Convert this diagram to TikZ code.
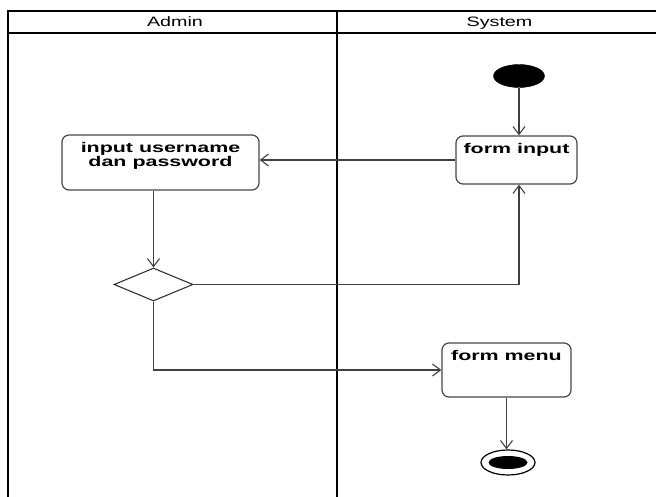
\documentclass[tikz,border=0pt]{standalone}
\usepackage{fontspec}
\setmainfont{Liberation Sans}
\usepackage{graphicx}
\usetikzlibrary{shapes.geometric,arrows.meta}
\newcommand\hdtxt[1]{\scalebox{1.45}[1]{\fontsize{13.6}{13.6}\selectfont #1}}
\newcommand\acttxt[1]{\scalebox{1.53}[1]{\fontsize{14}{12.5}\selectfont\bfseries\begin{tabular}{@{}c@{}}#1\end{tabular}}}
\newcommand\actbox[3]{\parbox[c][#2pt][t]{#1pt}{\centering\vspace*{7pt}\acttxt{#3}}}
\tikzset{
  lane/.style={line width=1.8pt, black},
  act/.style={draw=black!72, line width=1.2pt, rounded corners=7pt, fill=white, inner sep=0pt},
  flow/.style={draw=black!75, line width=1.1pt, -{Straight Barb[length=8pt,width=12pt,line width=1.1pt]}},
  startnode/.style={ellipse, fill=black, draw=black, minimum width=51pt, minimum height=23pt, inner sep=0pt},
  endouter/.style={ellipse, draw=black, line width=1.2pt, fill=white, minimum width=54pt, minimum height=25pt, inner sep=0pt},
  endinner/.style={ellipse, fill=black, minimum width=39pt, minimum height=13pt, inner sep=0pt},
  decision/.style={diamond, draw=black!80, line width=1.1pt, fill=white, minimum width=79pt, minimum height=33pt, inner sep=0pt},
  hdr/.style={inner sep=0pt, anchor=base}
}
\begin{document}
\begin{tikzpicture}[x=1pt,y=-1pt]
\useasboundingbox (0,0) rectangle (656,497);
\fill[white] (0,0) rectangle (656,497);
% swimlanes
\coordinate (tl) at (8,11);
\coordinate (tr) at (656,11);
\coordinate (hl) at (8,33);
\coordinate (hr) at (656,33);
\coordinate (bl) at (8,497);
\coordinate (mt) at (337,11);
\coordinate (mb) at (337,497);
\draw[lane] (tr) -- (tl) -- (bl);
\draw[lane] (hl) -- (hr);
\draw[lane] (mt) -- (mb);
\node[hdr] (admin) at (175,26.5) {\hdtxt{Admin}};
\node[hdr] (system) at (499.5,26.5) {\hdtxt{System}};
% nodes
\node[startnode] (start) at (519,76) {};
\node[act] (fi) at (516.5,160) {\actbox{121}{48}{form input}};
\node[act] (iu) at (160.5,162.5) {\actbox{197}{55}{input username\\dan password}};
\node[decision] (dec) at (153.5,284.5) {};
\node[act] (fm) at (506.5,370) {\actbox{129}{54}{form menu}};
\node[endouter] (endo) at (508,462.5) {};
\node[endinner] (endi) at (508,462.5) {};
% flows
\draw[flow] (start.south) -- (start.south |- fi.north);
\draw[flow] (fi.west) -- (fi.west -| iu.east);
\draw[flow] (dec.north |- iu.south) -- (dec.north);
\draw[flow] (dec.east) -| (start.south |- fi.south);
\draw[flow] (dec.south) |- (fm.west);
\draw[flow] (fm.south) -- (fm.south |- endo.north);
\end{tikzpicture}
\end{document}
